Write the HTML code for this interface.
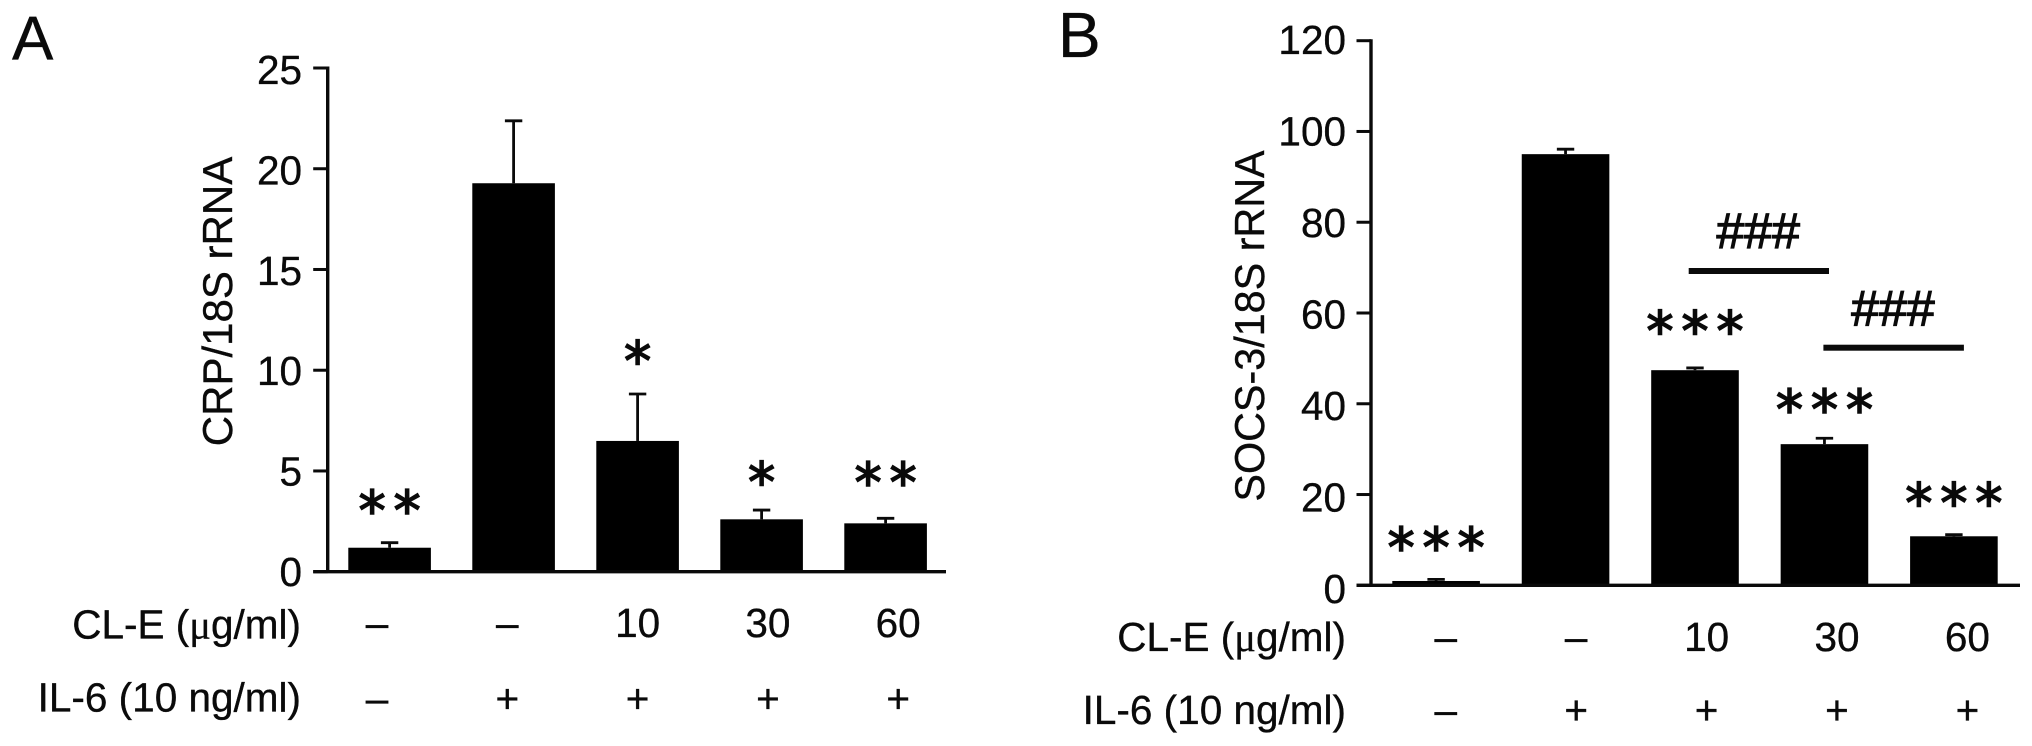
<!DOCTYPE html>
<html lang="en">
<head>
<meta charset="utf-8">
<title>CRP and SOCS-3 rRNA bar charts</title>
<style>
  html, body { margin: 0; padding: 0; background: #fff; }
  svg { display: block; }
  text { font-family: "Liberation Sans", sans-serif; fill: #0a0a0a; stroke: #0a0a0a; stroke-width: 0.35px; }
  .tick-label, .row-text { font-size: 40.5px; }
  .star { font-family: "DejaVu Sans", sans-serif; font-size: 54px; text-anchor: middle; stroke-width: 1.6px; }
  .hash { stroke-width: 1.2px; }
</style>
</head>
<body>
<svg id="figure" width="2032" height="746" viewBox="0 0 2032 746" xmlns="http://www.w3.org/2000/svg">
  <rect x="0" y="0" width="2032" height="746" fill="#fff"/>

  <text x="12" y="59.5" font-size="62">A</text>
  <text x="1058" y="57" font-size="64">B</text>

  <text transform="translate(232 301.5) rotate(-90)" text-anchor="middle" font-size="42">CRP/18S rRNA</text>
  <text transform="translate(1264 326) rotate(-90)" text-anchor="middle" font-size="41.3">SOCS-3/18S rRNA</text>

  <text class="row-text" x="301" y="638.5" text-anchor="end">CL-E (<tspan font-family="Liberation Serif">μ</tspan>g/ml)</text>
  <text class="row-text" x="301" y="711.5" text-anchor="end">IL-6 (10 ng/ml)</text>
  <text class="row-text" x="1346" y="651" text-anchor="end">CL-E (<tspan font-family="Liberation Serif">μ</tspan>g/ml)</text>
  <text class="row-text" x="1346" y="724" text-anchor="end">IL-6 (10 ng/ml)</text>

  <g id="panel-a"></g>
  <g id="panel-b"></g>

  <rect x="1688.7" y="268" width="140.3" height="6" fill="#0a0a0a"/>
  <text class="hash" x="1758.2" y="248" text-anchor="middle" font-size="50">###</text>
  <rect x="1823.4" y="344.7" width="140.5" height="6" fill="#0a0a0a"/>
  <text class="hash" x="1893" y="325.5" text-anchor="middle" font-size="50">###</text>
</svg>

<script>
const clEDoses = ['–', '–', '10', '30', '60'];
const il6Status = ['–', '+', '+', '+', '+'];

const crpValues = [1.19, 19.28, 6.49, 2.6, 2.4];
const crpErrorTops = [1.44, 22.38, 8.82, 3.06, 2.65];
const crpTickLabels = ['0', '5', '10', '15', '20', '25'];

const socsValues = [0.95, 95, 47.4, 31.1, 10.8];
const socsErrorTops = [1.3, 96.1, 47.9, 32.4, 11.15];
const socsTickLabels = ['0', '20', '40', '60', '80', '100', '120'];

const SVG_NS = 'http://www.w3.org/2000/svg';
const INK = '#0a0a0a';

function make(parent, tag, attrs) {
  const el = document.createElementNS(SVG_NS, tag);
  for (const key in attrs) el.setAttribute(key, attrs[key]);
  parent.appendChild(el);
  return el;
}

function drawPanel(id, prefix, opts, values, errorTops, tickLabels) {
  const g = document.getElementById(id);
  const maxTick = Number(tickLabels[tickLabels.length - 1]);
  const yScale = v => opts.y0 - (v / maxTick) * (opts.y0 - opts.yTop);
  const labelY = v => opts.labelBase0 - (v / maxTick) * (opts.labelBase0 - opts.labelBaseTop);
  const barX = i => opts.barStart + i * opts.barStep;
  const rowX = i => opts.rowStart + i * opts.rowStep;

  values.forEach((v, i) => {
    const cx = barX(i) + opts.barWidth / 2;

    const stem = make(g, 'line', { x1: cx, x2: cx, y1: yScale(v), y2: yScale(errorTops[i]), stroke: INK, 'stroke-width': 2.8 });
    
    

    const cap = make(g, 'line', { x1: cx - 8.7, x2: cx + 8.7, y1: yScale(errorTops[i]), y2: yScale(errorTops[i]), stroke: INK, 'stroke-width': 2.8 });
    
    

    const bar = make(g, 'rect', { x: barX(i), y: yScale(v), width: opts.barWidth, height: opts.y0 - yScale(v), fill: '#000' });
    
    

    const dose = make(g, 'text', { class: 'tick-label', x: rowX(i), y: opts.row1Base, 'text-anchor': 'middle' });
    dose.textContent = clEDoses[i];
    
    

    const il6 = make(g, 'text', { class: 'tick-label', x: rowX(i), y: opts.row2Base, 'text-anchor': 'middle' });
    il6.textContent = il6Status[i];
    
    
  });

  const yAxis = make(g, 'line', { x1: opts.axisX, x2: opts.axisX, y1: yScale(maxTick) - 1.5, y2: opts.y0, stroke: INK, 'stroke-width': 3.4 });
  
  

  const xAxis = make(g, 'line', { x1: opts.axisX - 14.5, x2: opts.axisEnd, y1: opts.y0, y2: opts.y0, stroke: INK, 'stroke-width': 3.4 });
  
  

  tickLabels.forEach(label => {
    const v = Number(label);
    const tick = make(g, 'line', { x1: opts.axisX - 14.5, x2: opts.axisX, y1: yScale(v), y2: yScale(v), stroke: INK, 'stroke-width': 3 });
    
    

    const text = make(g, 'text', { class: 'tick-label', x: opts.labelRight, y: labelY(v), 'text-anchor': 'end' });
    text.textContent = label;
    
    
  });

  return function drawStars(i, count, lift) {
    const cx = barX(i) + opts.barWidth / 2;
    const cy = yScale(errorTops[i]) - lift;
    for (let k = 0; k < count; k++) {
      const star = make(g, 'text', { class: 'star', x: cx + (k - (count - 1) / 2) * 35, y: cy + 27 });
      star.textContent = '*';
      
      
    }
  };
}

const starsA = drawPanel('panel-a', 'panel-a', {
  axisX: 327.7, axisEnd: 946, y0: 571.7, yTop: 68,
  barStart: 348.3, barStep: 124, barWidth: 82.6,
  labelRight: 302, labelBase0: 586, labelBaseTop: 84,
  rowStart: 377, rowStep: 130.3, row1Base: 637, row2Base: 712.5
}, crpValues, crpErrorTops, crpTickLabels);

starsA(0, 2, 40);
starsA(2, 1, 41);
starsA(3, 1, 36);
starsA(4, 2, 44);

const starsB = drawPanel('panel-b', 'panel-b', {
  axisX: 1371, axisEnd: 2020, y0: 585.3, yTop: 40.7,
  barStart: 1392.3, barStep: 129.45, barWidth: 87.6,
  labelRight: 1346, labelBase0: 603, labelBaseTop: 54,
  rowStart: 1445.8, rowStep: 130.4, row1Base: 651, row2Base: 724
}, socsValues, socsErrorTops, socsTickLabels);

starsB(0, 3, 40);
starsB(2, 3, 45);
starsB(3, 3, 37);
starsB(4, 3, 39.7);
</script>
</body>
</html>
